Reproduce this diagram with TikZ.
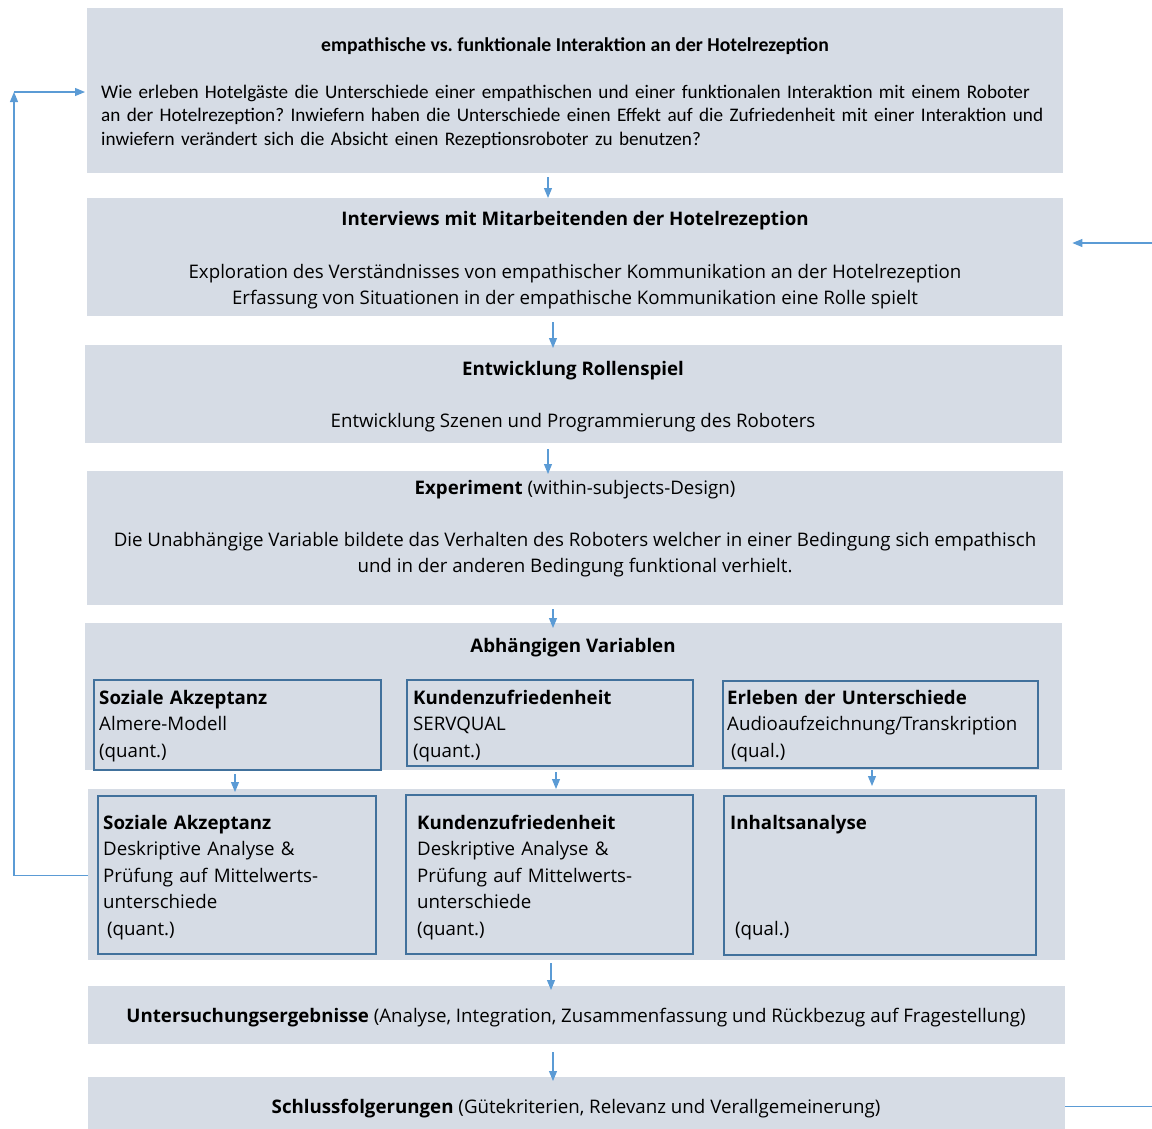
\documentclass[tikz,border=0pt]{standalone}
\usepackage{fontspec}
\setmainfont{Open Sans}
\newfontfamily\calib{Carlito}
\usetikzlibrary{arrows.meta}
\definecolor{boxfill}{HTML}{D6DCE5}
\definecolor{frameblue}{HTML}{41719C}
\definecolor{arrowblue}{HTML}{5B9BD5}
\frenchspacing
\begin{document}
\begin{tikzpicture}[x=1pt,y=-1pt,
  panel/.style={fill=boxfill, draw=none, inner sep=0pt, anchor=north west},
  varbox/.style={draw=frameblue, line width=2.2pt, fill=boxfill, inner sep=0pt, anchor=north west},
  arr/.style={draw=arrowblue, line width=1.1pt, -{Triangle[width=8pt,length=10pt]}},
  feed/.style={draw=arrowblue, line width=1.1pt},
  body/.style={font=\fontsize{18.7}{26}\selectfont, inner sep=0pt, anchor=base},
  qtext/.style={font=\calib\fontsize{19.2}{23.6}\selectfont, inner sep=0pt, anchor=base west, align=left, text width=1000pt},
  vartext/.style={font=\fontsize{18.7}{26.5}\selectfont, inner sep=0pt, anchor=base west, align=left, text width=310pt}]
\useasboundingbox (0,0) rectangle (1152,1128);

% main panels
\node[panel, minimum width=976pt, minimum height=165pt] (question) at (87,8) {};
\node[panel, minimum width=976pt, minimum height=118pt] (interviews) at (87,198) {};
\node[panel, minimum width=977pt, minimum height=98pt] (roleplay) at (85,345) {};
\node[panel, minimum width=976pt, minimum height=134pt] (experiment) at (87,471) {};
\node[panel, minimum width=977pt, minimum height=147pt] (depvars) at (85,623) {};
\node[panel, minimum width=977pt, minimum height=171pt] (analysis) at (88,789) {};
\node[panel, minimum width=977pt, minimum height=58pt] (results) at (88,986) {};
\node[panel, minimum width=977pt, minimum height=58pt] (conclusions) at (88,1077) {};

% research question
\node[font=\calib\bfseries\fontsize{19.7}{23.6}\selectfont, inner sep=0pt, anchor=base] (qtitle) at (575,51)
  {empathische vs. funktionale Interaktion an der Hotelrezeption};
\node[qtext] (qbody) at (101,98)
  {Wie erleben Hotelgäste die Unterschiede einer empathischen und einer funktionalen Interaktion mit einem Roboter\\
   an der Hotelrezeption? Inwiefern haben die Unterschiede einen Effekt auf die Zufriedenheit mit einer Interaktion und\\
   inwiefern verändert sich die Absicht einen Rezeptionsroboter zu benutzen?};

% interviews
\node[body] (ititle) at (575,225) {\textbf{Interviews mit Mitarbeitenden der Hotelrezeption}};
\node[body] (iline1) at (575,278) {Exploration des Verständnisses von empathischer Kommunikation an der Hotelrezeption};
\node[body] (iline2) at (575,304) {Erfassung von Situationen in der empathische Kommunikation eine Rolle spielt};

% role play
\node[body] (rtitle) at (573,375) {\textbf{Entwicklung Rollenspiel}};
\node[body] (rline) at (573,427) {Entwicklung Szenen und Programmierung des Roboters};

% experiment
\node[body] (etitle) at (575,494) {\textbf{Experiment} (within-subjects-Design)};
\node[body] (eline1) at (575,546) {Die Unabhängige Variable bildete das Verhalten des Roboters welcher in einer Bedingung sich empathisch};
\node[body] (eline2) at (575,572) {und in der anderen Bedingung funktional verhielt.};

% dependent variables
\node[body] (dtitle) at (573,652) {\textbf{Abhängigen Variablen}};
\node[varbox, minimum width=287pt, minimum height=90pt] (A1) at (93,679) {};
\node[varbox, minimum width=286pt, minimum height=86pt] (A2) at (406,679) {};
\node[varbox, minimum width=315pt, minimum height=87pt] (A3) at (722,680) {};
\node[vartext] (A1t) at (99,704) {\textbf{Soziale Akzeptanz}\\Almere-Modell\\(quant.)};
\node[vartext] (A2t) at (413,704) {\textbf{Kundenzufriedenheit}\\SERVQUAL\\(quant.)};
\node[vartext] (A3t) at (727,704) {\textbf{Erleben der Unterschiede}\\Audioaufzeichnung/Transkription\\\hspace*{4pt}(qual.)};

% analysis
\node[varbox, minimum width=278pt, minimum height=158pt] (B1) at (97,795) {};
\node[varbox, minimum width=287pt, minimum height=159pt] (B2) at (405,794) {};
\node[varbox, minimum width=312pt, minimum height=159pt] (B3) at (723,795) {};
\node[vartext] (B1t) at (103,829) {\textbf{Soziale Akzeptanz}\\Deskriptive Analyse \&\\Prüfung auf Mittelwerts-\\unterschiede\\\hspace*{4pt}(quant.)};
\node[vartext] (B2t) at (417,829) {\textbf{Kundenzufriedenheit}\\Deskriptive Analyse \&\\Prüfung auf Mittelwerts-\\unterschiede\\(quant.)};
\node[vartext] (B3t) at (730,829) {\textbf{Inhaltsanalyse}\\[79.5pt]\hspace*{5pt}(qual.)};

% results and conclusions
\node[body] (restext) at (576,1022) {\textbf{Untersuchungsergebnisse} (Analyse, Integration, Zusammenfassung und Rückbezug auf Fragestellung)};
\node[body] (context) at (576,1113) {\textbf{Schlussfolgerungen} (Gütekriterien, Relevanz und Verallgemeinerung)};

% flow arrows
\draw[arr] (question.south -| 548,0) ++(0,4) -- (interviews.north -| 548,0);
\draw[arr] (interviews.south -| 553,0) ++(0,6) -- ([yshift=-3pt]roleplay.north -| 553,0);
\draw[arr] (roleplay.south -| 548,0) ++(0,6) -- ([yshift=-3pt]experiment.north -| 548,0);
\draw[arr] (experiment.south -| 553,0) ++(0,4) -- ([yshift=-5pt]depvars.north -| 553,0);
\draw[arr] (A1.south -| 235,0) ++(0,3) -- ([yshift=-3pt]analysis.north -| 235,0);
\draw[arr] (A2.south -| 556,0) ++(0,5) -- (analysis.north -| 556,0);
\draw[arr] (A3.south -| 872,0) ++(0,1) -- ([yshift=3pt]analysis.north -| 872,0);
\draw[arr] (analysis.south -| 551,0) ++(0,3) -- ([yshift=-4pt]results.north -| 551,0);
\draw[arr] (results.south -| 553,0) ++(0,8) -- ([yshift=-4pt]conclusions.north -| 553,0);

% feedback loops
\coordinate (lcorner) at (14,92);
\draw[arr] (analysis.west |- B1.west) -| (lcorner);
\draw[arr] (lcorner) -- ([xshift=-2pt]question.west |- lcorner);
\coordinate (rcorner) at (1156,243);
\draw[feed] (conclusions.east) -| (rcorner);
\draw[arr] (rcorner) -- ([xshift=9pt]interviews.east |- rcorner);
\end{tikzpicture}
\end{document}
